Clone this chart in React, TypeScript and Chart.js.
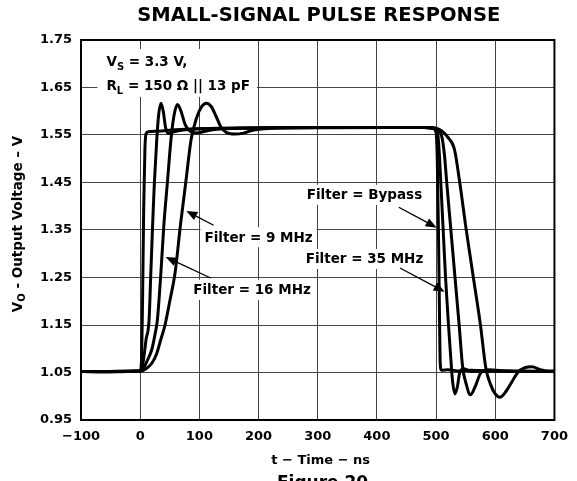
import React, { useEffect, useRef } from 'react';
import { Chart, registerables } from 'chart.js';

Chart.register(...registerables);

const FONT = '"DejaVu Sans", "Liberation Sans", Arial, sans-serif';

// ---- data (t in ns, V in volts) ----
const bypass: [number, number][] = [
  [-100, 1.052], [-60, 1.051], [-20, 1.052], [0, 1.053], [2, 1.07], [4, 1.2], [6, 1.4], [8, 1.52],
  [10, 1.553], [14, 1.557], [30, 1.558], [60, 1.561], [100, 1.563], [200, 1.565], [300, 1.566],
  [400, 1.566], [480, 1.566], [496, 1.563], [500, 1.555], [502, 1.5], [504, 1.35], [506, 1.15],
  [507, 1.07], [509, 1.055], [520, 1.056], [540, 1.053], [560, 1.055], [600, 1.053], [650, 1.052],
  [700, 1.052],
];

const filter35: [number, number][] = [
  [-100, 1.052], [0, 1.053], [3, 1.06], [6, 1.08], [10, 1.12], [15, 1.16], [18, 1.26], [21, 1.36],
  [24, 1.45], [28, 1.54], [31, 1.59], [35, 1.617], [39, 1.6], [43, 1.565], [48, 1.553], [55, 1.556],
  [70, 1.56], [100, 1.563], [200, 1.565], [480, 1.566], [496, 1.564], [503, 1.55], [506, 1.5],
  [508, 1.45], [512, 1.35], [516, 1.25], [521, 1.15], [526, 1.06], [528, 1.03], [532, 1.005],
  [536, 1.02], [540, 1.05], [547, 1.058], [560, 1.052], [600, 1.053], [700, 1.052],
];

const filter16: [number, number][] = [
  [-100, 1.052], [0, 1.053], [6, 1.06], [12, 1.075], [20, 1.1], [25, 1.13], [29, 1.16], [35, 1.26],
  [40, 1.36], [46, 1.45], [52, 1.54], [57, 1.59], [63, 1.614], [69, 1.6], [76, 1.572], [84, 1.558],
  [95, 1.554], [110, 1.558], [130, 1.562], [200, 1.565], [480, 1.566], [495, 1.565], [504, 1.558],
  [509, 1.55], [514, 1.51], [518, 1.45], [525, 1.35], [532, 1.25], [539, 1.15], [545, 1.06],
  [550, 1.03], [558, 1.003], [566, 1.02], [576, 1.05], [590, 1.056], [620, 1.053], [700, 1.052],
];

const filter9: [number, number][] = [
  [-100, 1.052], [0, 1.053], [10, 1.058], [20, 1.07], [28, 1.09], [35, 1.12], [42, 1.15], [50, 1.2],
  [59, 1.26], [68, 1.36], [77, 1.45], [86, 1.54], [95, 1.585], [104, 1.61], [112, 1.617],
  [120, 1.61], [128, 1.59], [136, 1.568], [145, 1.556], [160, 1.552], [175, 1.554], [190, 1.56],
  [220, 1.564], [300, 1.566], [480, 1.566], [495, 1.566], [505, 1.562], [512, 1.556], [520, 1.545],
  [531, 1.52], [540, 1.45], [551, 1.35], [563, 1.25], [575, 1.15], [584, 1.06], [592, 1.025],
  [600, 1.005], [608, 0.998], [618, 1.01], [628, 1.03], [638, 1.05], [650, 1.06], [662, 1.062],
  [676, 1.056], [690, 1.053], [700, 1.053],
];

const seriesNames = ['Filter = Bypass', 'Filter = 35 MHz', 'Filter = 16 MHz', 'Filter = 9 MHz'];

const X_MIN = -100;
const X_MAX = 700;
const X_STEP = 100;
const Y_MIN = 0.95;
const Y_MAX = 1.75;
const Y_STEP = 0.1;

const TITLE = 'SMALL-SIGNAL PULSE RESPONSE';
const X_TITLE = 't \u2212 Time \u2212 ns';
const FIGURE = 'Figure 20';

// callouts: label centre (data coords), arrow tail and tip (data coords)
const callouts = [
  { text: 'Filter = Bypass', t: 379, v: 1.424, tailT: 437, tailV: 1.398, tipT: 501, tipV: 1.355 },
  { text: 'Filter = 9 MHz', t: 200, v: 1.335, tailT: 124, tailV: 1.36, tipT: 78, tipV: 1.39 },
  { text: 'Filter = 35 MHz', t: 379, v: 1.289, tailT: 439, tailV: 1.27, tipT: 514.5, tipV: 1.22 },
  { text: 'Filter = 16 MHz', t: 189, v: 1.224, tailT: 119, tailV: 1.249, tipT: 43, tipV: 1.293 },
];

type Part = { s: string; sub?: boolean };
const condLines: Part[][] = [
  [{ s: 'V' }, { s: 'S', sub: true }, { s: ' = 3.3 V,' }],
  [{ s: 'R' }, { s: 'L', sub: true }, { s: ' = 150 \u03A9 || 13 pF' }],
];
const condPos = { t: -57, v1: 1.695, v2: 1.645 };
const yTitleParts: Part[] = [
  { s: 'V' }, { s: 'O', sub: true }, { s: ' - Output Voltage \u2013 V' },
];

function richWidth(ctx: CanvasRenderingContext2D, parts: Part[], size: number, subSize: number) {
  let w = 0;
  for (const p of parts) {
    ctx.font = `bold ${p.sub ? subSize : size}px ${FONT}`;
    w += ctx.measureText(p.s).width;
  }
  return w;
}

function drawRich(ctx: CanvasRenderingContext2D, parts: Part[], x: number, y: number, size: number, subSize: number, subOff: number) {
  let cx = x;
  for (const p of parts) {
    ctx.font = `bold ${p.sub ? subSize : size}px ${FONT}`;
    ctx.fillText(p.s, cx, p.sub ? y + subOff : y);
    cx += ctx.measureText(p.s).width;
  }
  return cx;
}

const decorPlugin = {
  id: 'decor',
  afterDatasetsDraw(chart: any) {
    const ctx: CanvasRenderingContext2D = chart.ctx;
    const xs = chart.scales.x;
    const ys = chart.scales.y;
    const a = chart.chartArea;
    ctx.save();

    // frame
    ctx.strokeStyle = '#000';
    ctx.lineWidth = 2;
    ctx.strokeRect(a.left, a.top, a.right - a.left, a.bottom - a.top);

    ctx.fillStyle = '#000';
    ctx.textBaseline = 'alphabetic';

    // conditions box
    const size = 13.5;
    const subSize = 10;
    const cx0 = xs.getPixelForValue(condPos.t);
    const y1 = ys.getPixelForValue(condPos.v1);
    const y2 = ys.getPixelForValue(condPos.v2);
    const w2 = richWidth(ctx, condLines[1], size, subSize);
    ctx.fillStyle = '#fff';
    ctx.fillRect(cx0 - 9, y1 - 17, w2 + 16, y2 - y1 + 24);
    ctx.fillStyle = '#000';
    drawRich(ctx, condLines[0], cx0, y1, size, subSize, 4);
    drawRich(ctx, condLines[1], cx0, y2, size, subSize, 4);

    // callouts
    ctx.font = `bold ${size}px ${FONT}`;
    for (const c of callouts) {
      const px = xs.getPixelForValue(c.t);
      const py = ys.getPixelForValue(c.v);
      const w = ctx.measureText(c.text).width;
      ctx.fillStyle = '#fff';
      ctx.fillRect(px - w / 2 - 4, py - 10, w + 8, 20);
      ctx.fillStyle = '#000';
      ctx.textAlign = 'center';
      ctx.textBaseline = 'middle';
      ctx.fillText(c.text, px, py + 1);

      const tx = xs.getPixelForValue(c.tailT);
      const ty = ys.getPixelForValue(c.tailV);
      const hx = xs.getPixelForValue(c.tipT);
      const hy = ys.getPixelForValue(c.tipV);
      const ang = Math.atan2(hy - ty, hx - tx);
      const len = 11;
      const hw = 4.5;
      const bx = hx - len * Math.cos(ang);
      const by = hy - len * Math.sin(ang);
      ctx.strokeStyle = '#000';
      ctx.lineWidth = 1.3;
      ctx.beginPath();
      ctx.moveTo(tx, ty);
      ctx.lineTo(bx, by);
      ctx.stroke();
      ctx.beginPath();
      ctx.moveTo(hx, hy);
      ctx.lineTo(bx + hw * Math.sin(ang), by - hw * Math.cos(ang));
      ctx.lineTo(bx - hw * Math.sin(ang), by + hw * Math.cos(ang));
      ctx.closePath();
      ctx.fill();
    }

    // title
    ctx.textAlign = 'center';
    ctx.textBaseline = 'middle';
    ctx.font = `bold 19.5px ${FONT}`;
    ctx.fillText(TITLE, (a.left + a.right) / 2 + 1, 16);

    // x title
    ctx.font = `bold 13px ${FONT}`;
    ctx.fillText(X_TITLE, (a.left + a.right) / 2 + 3, 461);

    // figure caption (partly cut off)
    ctx.textAlign = 'left';
    ctx.textBaseline = 'top';
    ctx.font = `bold 17px ${FONT}`;
    ctx.fillText(FIGURE, 277, 475);

    // y title with subscript
    ctx.save();
    ctx.translate(18, (a.top + a.bottom) / 2 - 6);
    ctx.rotate(-Math.PI / 2);
    ctx.textAlign = 'left';
    ctx.textBaseline = 'middle';
    const wy = richWidth(ctx, yTitleParts, 13.5, 10);
    drawRich(ctx, yTitleParts, -wy / 2, 0, 13.5, 10, 4);
    ctx.restore();

    ctx.restore();
  },
};

export default function App() {
  const ref = useRef<HTMLCanvasElement | null>(null);
  useEffect(() => {
    if (!ref.current) return;
    const all = [bypass, filter35, filter16, filter9];
    const chart = new Chart(ref.current, {
      type: 'line',
      data: {
        datasets: all.map((arr, i) => ({
          label: seriesNames[i],
          data: arr.map(([x, y]) => ({ x, y })),
          borderColor: '#000',
          borderWidth: 3,
          pointRadius: 0,
          fill: false,
          tension: 0.4,
          cubicInterpolationMode: 'monotone' as const,
          borderJoinStyle: 'round' as const,
        })),
      },
      options: {
        animation: false,
        responsive: false,
        layout: { padding: { top: 40, right: 18, left: 0, bottom: 0 } },
        plugins: {
          legend: { display: false },
          tooltip: { enabled: false },
          title: { display: false },
        },
        scales: {
          x: {
            type: 'linear',
            min: X_MIN,
            max: X_MAX,
            ticks: {
              stepSize: X_STEP,
              color: '#000',
              padding: 9,
              maxRotation: 0,
              autoSkip: false,
              font: { family: FONT, size: 13, weight: 'bold' },
              callback: (v: any) => (Number(v) < 0 ? '\u2212' + Math.abs(Number(v)) : String(v)),
            },
            grid: { color: '#444', lineWidth: 1, drawTicks: false },
            border: { display: false },
            afterFit: (s: any) => { s.height = 61; },
          },
          y: {
            type: 'linear',
            min: Y_MIN,
            max: Y_MAX,
            ticks: {
              stepSize: Y_STEP,
              color: '#000',
              padding: 9,
              autoSkip: false,
              font: { family: FONT, size: 13, weight: 'bold' },
              callback: (v: any) => Number(v).toFixed(2),
            },
            grid: { color: '#444', lineWidth: 1, drawTicks: false },
            border: { display: false },
            afterFit: (s: any) => { s.width = 81; },
          },
        },
      },
      plugins: [decorPlugin],
    });
    return () => chart.destroy();
  }, []);

  return (
    <div style={{ position: 'fixed', left: 0, top: 0, width: 577, height: 481, background: '#fff' }}>
      <canvas ref={ref} width={577} height={481} style={{ display: 'block' }} />
    </div>
  );
}
